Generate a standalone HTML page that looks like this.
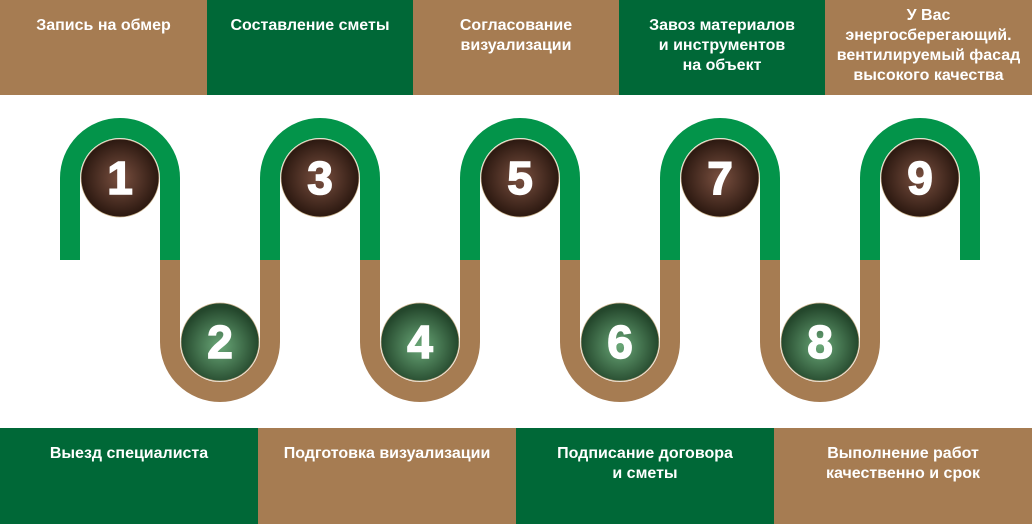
<!DOCTYPE html>
<html><head><meta charset="utf-8"><style>
body{margin:0;width:1032px;height:524px;position:relative;background:#fff;font-family:"Liberation Sans",sans-serif;overflow:hidden}
.b{position:absolute;color:#fff;font-weight:bold;font-size:16px;line-height:20px;text-align:center;box-sizing:border-box}
.br{background:#a67c52}.gr{background:#006837}
</style></head><body>
<div class="b br" style="left:0;top:0;width:207px;height:95px;padding-top:16px">Запись на обмер</div>
<div class="b gr" style="left:207px;top:0;width:206px;height:95px;padding-top:16px">Составление сметы</div>
<div class="b br" style="left:413px;top:0;width:206px;height:95px;padding-top:16px">Согласование<br>визуализации</div>
<div class="b gr" style="left:619px;top:0;width:206px;height:95px;padding-top:16px">Завоз материалов<br>и инструментов<br>на объект</div>
<div class="b br" style="left:825px;top:0;width:207px;height:95px;padding-top:6px">У Вас<br>энергосберегающий.<br>вентилируемый фасад<br>высокого качества</div>
<div class="b gr" style="left:0;top:428px;width:258px;height:96px;padding-top:16px">Выезд специалиста</div>
<div class="b br" style="left:258px;top:428px;width:258px;height:96px;padding-top:16px">Подготовка визуализации</div>
<div class="b gr" style="left:516px;top:428px;width:258px;height:96px;padding-top:16px">Подписание договора<br>и сметы</div>
<div class="b br" style="left:774px;top:428px;width:258px;height:96px;padding-top:16px">Выполнение работ<br>качественно и срок</div>
<svg width="1032" height="524" style="position:absolute;left:0;top:0">
<defs>
<radialGradient id="rb" cx="50%" cy="50%" r="50%"><stop offset="0" stop-color="#7a5040"/><stop offset="1" stop-color="#2b1810"/></radialGradient>
<radialGradient id="rg" cx="50%" cy="55%" r="50%"><stop offset="0" stop-color="#6aa878"/><stop offset="1" stop-color="#24472c"/></radialGradient>
</defs>
<g fill="none" stroke-width="20">
<g stroke="#03944a">
<path d="M70,260V178A50,50 0 0 1 170,178V260"/>
<path d="M270,260V178A50,50 0 0 1 370,178V260"/>
<path d="M470,260V178A50,50 0 0 1 570,178V260"/>
<path d="M670,260V178A50,50 0 0 1 770,178V260"/>
<path d="M870,260V178A50,50 0 0 1 970,178V260"/>
</g>
<g stroke="#a67c52">
<path d="M170,260V342A50,50 0 0 0 270,342V260"/>
<path d="M370,260V342A50,50 0 0 0 470,342V260"/>
<path d="M570,260V342A50,50 0 0 0 670,342V260"/>
<path d="M770,260V342A50,50 0 0 0 870,342V260"/>
</g>
</g>
<g stroke="#c8b08a" stroke-width="0.7">
<circle cx="120" cy="178" r="39" fill="url(#rb)"/>
<circle cx="320" cy="178" r="39" fill="url(#rb)"/>
<circle cx="520" cy="178" r="39" fill="url(#rb)"/>
<circle cx="720" cy="178" r="39" fill="url(#rb)"/>
<circle cx="920" cy="178" r="39" fill="url(#rb)"/>
<circle cx="220" cy="342" r="39" fill="url(#rg)"/>
<circle cx="420" cy="342" r="39" fill="url(#rg)"/>
<circle cx="620" cy="342" r="39" fill="url(#rg)"/>
<circle cx="820" cy="342" r="39" fill="url(#rg)"/>
</g>
<g fill="#fff" stroke="#fff" stroke-width="1.5" font-family="Liberation Sans,sans-serif" font-weight="bold" font-size="46" text-anchor="middle">
<text x="120" y="194">1</text><text x="320" y="194">3</text><text x="520" y="194">5</text><text x="720" y="194">7</text><text x="920" y="194">9</text>
<text x="220" y="358">2</text><text x="420" y="358">4</text><text x="620" y="358">6</text><text x="820" y="358">8</text>
</g>
</svg>
</body></html>
